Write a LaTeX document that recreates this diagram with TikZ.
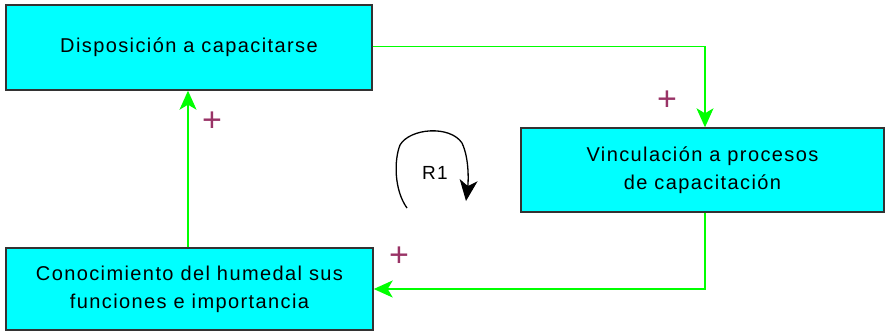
\documentclass[tikz,border=0pt]{standalone}
\usepackage{fontspec}
\setmainfont{Liberation Sans}[LetterSpace=7]
\usetikzlibrary{arrows.meta}
\definecolor{boxfill}{HTML}{00FFFF}
\definecolor{linkgreen}{HTML}{00FF00}
\definecolor{signcol}{HTML}{993366}
\tikzset{
  var/.style={draw=black!80, line width=1.4pt, fill=boxfill, inner sep=0pt,
    font=\fontsize{20}{28}\selectfont, align=center},
  link/.style={draw=linkgreen, line width=1.3pt,
    -{Stealth[length=19pt,width=17pt,inset=5pt]}},
  sign/.style={text=signcol, font=\fontsize{34}{34}\selectfont, inner sep=0pt},
  loopline/.style={draw=black, line width=1.3pt, -{Stealth[length=21pt,width=18pt,inset=6pt]}},
}
\begin{document}
\begin{tikzpicture}[x=1pt,y=-1pt]
\useasboundingbox (0,0) rectangle (889,333);
\node[var, minimum width=366pt, minimum height=85pt] (disp) at (189,47.5) {Disposición a capacitarse};
\node[var, minimum width=363pt, minimum height=84pt] (vinc) at (702.5,170) {Vinculación a procesos\\de capacitación};
\node[var, minimum width=367pt, minimum height=82pt] (cono) at (189.5,289) {Conocimiento del humedal sus\\funciones e importancia};
\coordinate (c1) at (705,46.5);
\coordinate (c2) at (705,289);
\draw[link] (disp.east |- c1) -- (c1) -- (c1 |- vinc.north);
\draw[link] (c2 |- vinc.south) -- (c2) -- (cono.east |- c2);
\draw[link] (cono.north -| 188,0) -- (disp.south -| 188,0);
\node[sign] (p1) at (667,101) {+};
\node[sign] (p2) at (399,257) {+};
\node[sign] (p3) at (212,122) {+};
\node[font=\fontsize{19}{20}\selectfont] (r1) at (435,173) {R1};
\coordinate (l0) at (407,208);
\coordinate (l1) at (466,201);
\draw[loopline] (l0) .. controls (394,190) and (394,160) .. (400,145)
  .. controls (410,128) and (450,125) .. (462,143)
  .. controls (470,160) and (468,185) .. (l1);
\end{tikzpicture}
\end{document}
